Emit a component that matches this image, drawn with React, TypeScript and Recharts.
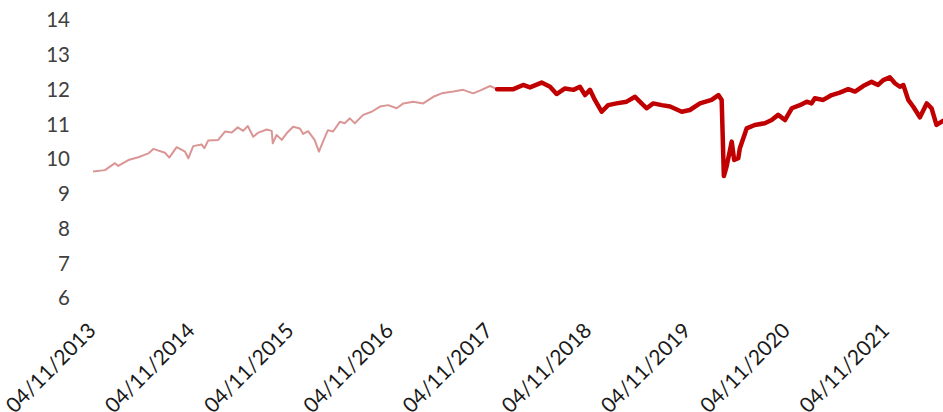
import { LineChart, Line, XAxis, YAxis } from 'recharts'

const START = '2013-11-04'
const END = '2022-05-31'

const tickDates = [
  '2013-11-04', '2014-11-04', '2015-11-04', '2016-11-04', '2017-11-04',
  '2018-11-04', '2019-11-04', '2020-11-04', '2021-11-04',
]
const yTicks = [6, 7, 8, 9, 10, 11, 12, 13, 14]

// light series, up to late 2017
const earlyDates = [
  '2013-11-04', '2013-12-18', '2014-01-24', '2014-02-05', '2014-03-14', '2014-04-20',
  '2014-05-27', '2014-06-14', '2014-07-27', '2014-08-12', '2014-09-08', '2014-10-09',
  '2014-10-21', '2014-11-08', '2014-12-09', '2014-12-19', '2015-01-02', '2015-02-08',
  '2015-03-05', '2015-03-30', '2015-04-21', '2015-05-11', '2015-05-28', '2015-06-17',
  '2015-07-06', '2015-08-06', '2015-08-24', '2015-08-28', '2015-09-11', '2015-09-30',
  '2015-10-18', '2015-11-11', '2015-12-06', '2015-12-18', '2016-01-05', '2016-01-29',
  '2016-02-14', '2016-02-29', '2016-03-18', '2016-04-06', '2016-05-01', '2016-05-19',
  '2016-06-07', '2016-06-25', '2016-07-26', '2016-08-26', '2016-09-26', '2016-10-26',
  '2016-11-26', '2016-12-21', '2017-01-26', '2017-03-04', '2017-04-10', '2017-05-11',
  '2017-06-23', '2017-07-29', '2017-09-04', '2017-10-05', '2017-11-05', '2017-12-01',
]
const earlyValues = [
  9.64, 9.68, 9.88, 9.8, 9.97, 10.05,
  10.16, 10.29, 10.18, 10.04, 10.34, 10.21,
  10.02, 10.37, 10.42, 10.31, 10.53, 10.55,
  10.79, 10.76, 10.91, 10.81, 10.95, 10.64,
  10.76, 10.85, 10.81, 10.45, 10.69, 10.55,
  10.74, 10.93, 10.88, 10.72, 10.8, 10.55,
  10.21, 10.5, 10.83, 10.79, 11.07, 11.03,
  11.17, 11.03, 11.27, 11.36, 11.51, 11.55,
  11.46, 11.6, 11.65, 11.6, 11.79, 11.89,
  11.94, 11.99, 11.89, 11.99, 12.1, 12.01,
]

// dark series, from late 2017
const recentDates = [
  '2017-12-01', '2018-01-30', '2018-03-07', '2018-04-01', '2018-05-14', '2018-06-14',
  '2018-07-08', '2018-08-08', '2018-09-08', '2018-10-02', '2018-10-21', '2018-11-08',
  '2018-11-26', '2018-12-21', '2019-01-14', '2019-02-14', '2019-03-23', '2019-04-23',
  '2019-05-17', '2019-06-05', '2019-06-29', '2019-07-30', '2019-08-30', '2019-10-12',
  '2019-11-11', '2019-12-18', '2020-01-30', '2020-02-24', '2020-03-07', '2020-03-15',
  '2020-03-25', '2020-04-13', '2020-04-22', '2020-05-07', '2020-05-13', '2020-06-07',
  '2020-07-07', '2020-08-13', '2020-09-07', '2020-10-01', '2020-10-26', '2020-11-20',
  '2020-12-20', '2021-01-14', '2021-02-01', '2021-02-13', '2021-03-16', '2021-04-16',
  '2021-05-16', '2021-06-16', '2021-07-11', '2021-08-10', '2021-09-10', '2021-10-04',
  '2021-10-23', '2021-11-16', '2021-12-05', '2021-12-23', '2022-01-05', '2022-01-23',
  '2022-02-10', '2022-03-07', '2022-04-01', '2022-04-19', '2022-05-07', '2022-05-31',
]
const recentValues = [
  12.01, 12.01, 12.13, 12.06, 12.2, 12.08,
  11.87, 12.03, 11.99, 12.08, 11.84, 11.99,
  11.7, 11.36, 11.55, 11.6, 11.65, 11.79,
  11.6, 11.46, 11.6, 11.55, 11.51, 11.36,
  11.41, 11.6, 11.7, 11.84, 11.7, 9.51,
  9.78, 10.5, 9.97, 10.02, 10.31, 10.88,
  10.98, 11.03, 11.12, 11.27, 11.12, 11.46,
  11.55, 11.65, 11.6, 11.75, 11.7, 11.84,
  11.91, 12.01, 11.94, 12.1, 12.22, 12.13,
  12.27, 12.35, 12.18, 12.08, 12.13, 11.7,
  11.51, 11.2, 11.6, 11.46, 10.98, 11.1,
]

const toTime = (d: string) => Date.parse(d + 'T00:00:00Z')

const fmtDate = (t: number) => {
  const d = new Date(t)
  const dd = String(d.getUTCDate()).padStart(2, '0')
  const mm = String(d.getUTCMonth() + 1).padStart(2, '0')
  return `${dd}/${mm}/${d.getUTCFullYear()}`
}

type Row = { t: number; early: number | null; recent: number | null }

const rows: Row[] = []
earlyDates.forEach((d, i) => rows.push({ t: toTime(d), early: earlyValues[i], recent: null }))
recentDates.forEach((d, i) => {
  const t = toTime(d)
  const existing = rows.find((r) => r.t === t)
  if (existing) existing.recent = recentValues[i]
  else rows.push({ t, early: null, recent: recentValues[i] })
})
rows.sort((a, b) => a.t - b.t)

const FONT = 'Lato, "Open Sans", sans-serif'

function DateTick({ x, y, payload }: any) {
  return (
    <text
      transform={`translate(${x + 4},${y + 26}) rotate(-45)`}
      textAnchor="end"
      fontFamily={FONT}
      fontSize={21}
      fill="#1a1a1a"
    >
      {fmtDate(payload.value)}
    </text>
  )
}

export default function App() {
  return (
    <div style={{ position: 'absolute', left: 0, top: 0, background: '#fff' }}>
      <LineChart
        width={943}
        height={412}
        data={rows}
        margin={{ top: 20, right: 0, left: 0, bottom: 0 }}
      >
        <XAxis
          dataKey="t"
          type="number"
          scale="time"
          domain={[toTime(START), toTime(END)]}
          ticks={tickDates.map(toTime)}
          tick={<DateTick />}
          axisLine={false}
          tickLine={false}
          height={114}
          interval={0}
          allowDataOverflow
        />
        <YAxis
          domain={[6, 14]}
          ticks={yTicks}
          width={93}
          axisLine={false}
          tickLine={false}
          tickSize={0}
          tickMargin={23}
          interval={0}
          tick={{ fontFamily: FONT, fontSize: 20.5, fill: '#404040' }}
        />
        <Line
          dataKey="early"
          stroke="#DA9694"
          strokeWidth={2}
          dot={false}
          activeDot={false}
          isAnimationActive={false}
          strokeLinejoin="round"
        />
        <Line
          dataKey="recent"
          stroke="#C00000"
          strokeWidth={4.5}
          dot={false}
          activeDot={false}
          isAnimationActive={false}
          strokeLinejoin="round"
          strokeLinecap="round"
        />
      </LineChart>
    </div>
  )
}
